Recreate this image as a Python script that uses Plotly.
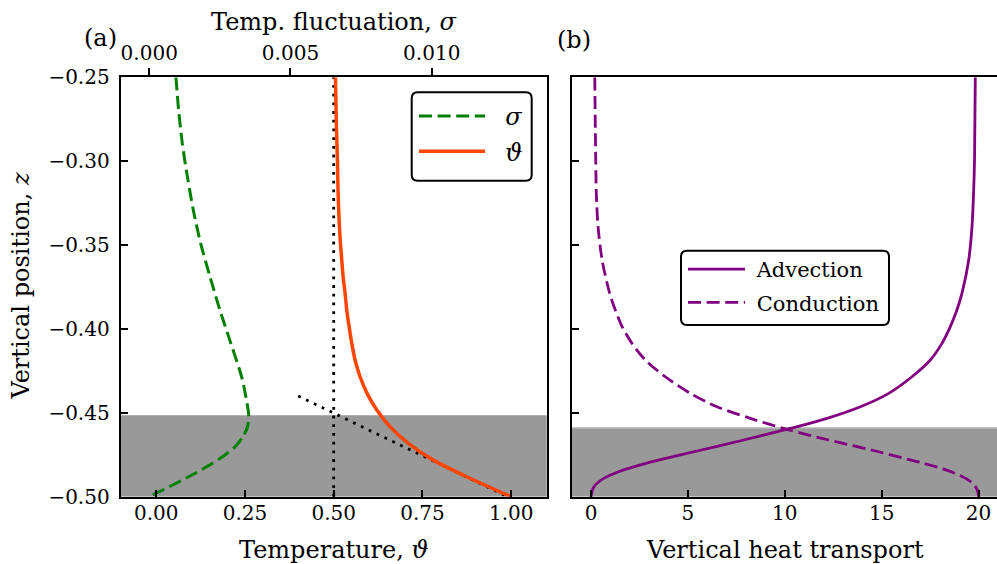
import plotly.graph_objects as go

W, H = 997, 564

# ---------------- data ----------------
# Panel (a): mean temperature profile
theta_z = [-0.25, -0.2794, -0.2993, -0.3192, -0.339, -0.349, -0.3589, -0.3688,
           -0.3788, -0.3887, -0.3986, -0.4086, -0.4185, -0.4285, -0.4384, -0.4483,
           -0.4583, -0.4682, -0.4782, -0.4881, -0.5]
theta_val = [0.5049, 0.5077, 0.5105, 0.5124, 0.5161, 0.5190, 0.5227, 0.5265,
             0.5321, 0.5368, 0.5434, 0.5509, 0.5602, 0.5743, 0.5940, 0.6215,
             0.6588, 0.7104, 0.7808, 0.8746, 0.9994]

# Panel (a): temperature fluctuation profile
sigma_z = [-0.25, -0.2695, -0.2894, -0.3092, -0.3291, -0.349, -0.3688, -0.3887,
           -0.4086, -0.4285, -0.4404, -0.4515, -0.4583, -0.4642, -0.4702, -0.4751,
           -0.4801, -0.4859, -0.4929, -0.5]
sigma_val = [0.000945, 0.00104, 0.00117, 0.00135, 0.00156, 0.00182, 0.00215, 0.00250,
             0.00289, 0.00327, 0.00342, 0.00352, 0.00348, 0.00332, 0.00304, 0.00268,
             0.00224, 0.00164, 0.00085, 0.0]

# Panel (a): reference lines
mid_temp = [0.5, 0.5]
mid_z = [-0.5, -0.25]
tangent_temp = [0.4, 1.0]
tangent_z = [-0.4400, -0.5010]

# Panel (b): vertical heat transport
flux_z = [-0.25, -0.2993, -0.3192, -0.339, -0.3589, -0.3788, -0.3887, -0.3986,
          -0.4086, -0.4185, -0.4285, -0.4384, -0.4464, -0.4533, -0.4599, -0.4662,
          -0.4732, -0.4782, -0.4801, -0.4831, -0.4851, -0.4871, -0.4891, -0.4911,
          -0.4930, -0.496, -0.5]
adv_val = [19.83, 19.79, 19.74, 19.66, 19.49, 19.14, 18.88, 18.54,
           18.11, 17.51, 16.56, 15.36, 13.90, 12.18, 10.08, 7.88,
           5.30, 3.48, 2.83, 1.93, 1.42, 1.00, 0.66, 0.40,
           0.22, 0.07, 0.0]
cond_val = [0.19, 0.24, 0.27, 0.36, 0.57, 0.96, 1.25, 1.60,
            2.11, 2.80, 3.83, 5.12, 6.50, 8.22, 10.11, 12.26,
            14.84, 16.52, 17.17, 18.07, 18.58, 19.00, 19.34, 19.60,
            19.78, 19.93, 20.0]

# boundary-layer shading limits
shade_a = [-0.5, -0.4515]
shade_b = [-0.5, -0.4589]

theta_ticks = [0.0, 0.25, 0.5, 0.75, 1.0]
sigma_ticks = [0.0, 0.005, 0.010]
sigma_ticktext = ["0.000", "0.005", "0.010"]
flux_ticks = [0, 5, 10, 15, 20]
z_ticks = [-0.5, -0.45, -0.4, -0.35, -0.3, -0.25]

# ---------------- layout helpers ----------------
FONT = "DejaVu Serif"
def px(x):
    return x / W
def py(y):
    return 1 - y / H

L0, L1 = 120.7, 546.7
R0, R1 = 571.7, 997.0
T, B = 77.3, 496.7

GREEN = "#008000"
ORANGE = "#ff4500"
PURPLE = "#800080"
DASH = "13px,5.6px"
SM = 0.8
NB = "\u00a0"

fig = go.Figure()

fig.add_trace(go.Scatter(x=sigma_val, y=sigma_z, xaxis="x3", yaxis="y", mode="lines",
                         line=dict(color=GREEN, width=3, dash=DASH, shape="spline", smoothing=SM),
                         name=NB * 2 + "<i>σ</i>", legend="legend", legendgroup="s"))
fig.add_trace(go.Scatter(x=mid_temp, y=mid_z, xaxis="x", yaxis="y", mode="lines",
                         line=dict(color="black", width=2.8, dash="2.8px,5.9px"),
                         showlegend=False, hoverinfo="skip"))
fig.add_trace(go.Scatter(x=tangent_temp, y=tangent_z, xaxis="x", yaxis="y", mode="lines",
                         line=dict(color="black", width=2.8, dash="2.8px,5.9px"),
                         showlegend=False, hoverinfo="skip"))
fig.add_trace(go.Scatter(x=theta_val, y=theta_z, xaxis="x", yaxis="y", mode="lines",
                         line=dict(color=ORANGE, width=3.5, shape="spline", smoothing=SM),
                         name=NB * 2 + "<i>ϑ</i>", legend="legend", legendgroup="t"))

fig.add_trace(go.Scatter(x=adv_val, y=flux_z, xaxis="x2", yaxis="y2", mode="lines",
                         line=dict(color=PURPLE, width=2.8, shape="spline", smoothing=SM),
                         name=NB + "Advection", legend="legend2", legendgroup="a"))
fig.add_trace(go.Scatter(x=cond_val, y=flux_z, xaxis="x2", yaxis="y2", mode="lines",
                         line=dict(color=PURPLE, width=2.8, dash=DASH, shape="spline", smoothing=SM),
                         name=NB + "Conduction", legend="legend2", legendgroup="c"))

axis_common = dict(showgrid=False, zeroline=False, showline=True, linecolor="black",
                   linewidth=2, mirror=True, ticks="inside", ticklen=7, tickwidth=1.5,
                   tickcolor="black", tickfont=dict(family=FONT, size=20, color="black"))

fig.update_layout(
    width=W, height=H, margin=dict(l=0, r=0, t=0, b=0, pad=0, autoexpand=False),
    paper_bgcolor="white", plot_bgcolor="white",
    showlegend=True,
    xaxis=dict(domain=[px(L0), px(L1)], anchor="y", range=[-0.1, 1.1],
               tickvals=theta_ticks, tickformat=".2f", ticklabelstandoff=-3, **axis_common),
    yaxis=dict(domain=[py(B), py(T)], anchor="x", range=[-0.5, -0.25],
               tickvals=z_ticks, tickformat=".2f", ticklabelstandoff=5, **axis_common),
    xaxis3=dict(overlaying="x", side="top", anchor="y", range=[-0.00101, 0.01407],
                tickvals=sigma_ticks, ticktext=sigma_ticktext, showgrid=False, zeroline=False,
                showline=False, ticks="outside", ticklen=8, tickwidth=1.5, tickcolor="black",
                tickfont=dict(family=FONT, size=20, color="black")),
    xaxis2=dict(domain=[px(R0), px(R1)], anchor="y2", range=[-1, 20.95],
                tickvals=flux_ticks, ticklabelstandoff=-3, **axis_common),
    yaxis2=dict(domain=[py(B), py(T)], anchor="x2", range=[-0.5, -0.25],
                tickvals=z_ticks, showticklabels=False, **axis_common),
    legend=dict(x=px(414), y=py(94), xanchor="left", yanchor="top",
                bgcolor="rgba(0,0,0,0)", borderwidth=0, itemwidth=66,
                font=dict(family=FONT, size=24, color="black"),
                traceorder="grouped", tracegroupgap=1),
    legend2=dict(x=px(683), y=py(249), xanchor="left", yanchor="top",
                 bgcolor="rgba(0,0,0,0)", borderwidth=0, itemwidth=57,
                 font=dict(family=FONT, size=21, color="black"),
                 traceorder="grouped", tracegroupgap=3),
)

# boundary-layer shading
fig.add_shape(type="rect", xref="x domain", yref="y", x0=0, x1=1, y0=shade_a[0], y1=shade_a[1],
              fillcolor="#999999", line=dict(width=0), layer="below")
fig.add_shape(type="rect", xref="x2 domain", yref="y2", x0=0, x1=1, y0=shade_b[0], y1=shade_b[1],
              fillcolor="#999999", line=dict(width=0), layer="below")
fig.add_shape(type="line", xref="x2 domain", yref="y2", x0=0, x1=1, y0=shade_b[1], y1=shade_b[1],
              line=dict(color="#c4c4c4", width=1.5), layer="below")

# rounded legend frames
def rounded(x0, y0, x1, y1, r=6):
    def P(x, y):
        return f"{px(x):.5f},{py(y):.5f}"
    return (f"M{P(x0 + r, y0)} L{P(x1 - r, y0)} Q{P(x1, y0)} {P(x1, y0 + r)} "
            f"L{P(x1, y1 - r)} Q{P(x1, y1)} {P(x1 - r, y1)} L{P(x0 + r, y1)} "
            f"Q{P(x0, y1)} {P(x0, y1 - r)} L{P(x0, y0 + r)} Q{P(x0, y0)} {P(x0 + r, y0)} Z")

fig.add_shape(type="path", xref="paper", yref="paper", path=rounded(411.7, 92.3, 531.7, 180.7),
              fillcolor="white", line=dict(color="black", width=2), layer="above")
fig.add_shape(type="path", xref="paper", yref="paper", path=rounded(681, 250.7, 889, 325),
              fillcolor="white", line=dict(color="black", width=2), layer="above")

def ann(text, x, y, size=24, angle=0):
    fig.add_annotation(text=text, x=px(x), y=py(y), xref="paper", yref="paper",
                       showarrow=False, textangle=angle, xanchor="center", yanchor="middle",
                       font=dict(family=FONT, size=size, color="black"))

ann("Temperature, <i>ϑ</i>", 333.7, 550)
ann("Vertical heat transport", 785, 550)
ann("Temp. fluctuation, <i>σ</i>", 334, 22)
ann("Vertical position, <i>z</i>", 20, 286.5, angle=-90)
ann("(a)", 100, 38)
ann("(b)", 574, 40)

fig.write_html("out.html", config={"displayModeBar": False},
               post_script="document.body.style.margin='0px';document.body.style.overflow='hidden';")
